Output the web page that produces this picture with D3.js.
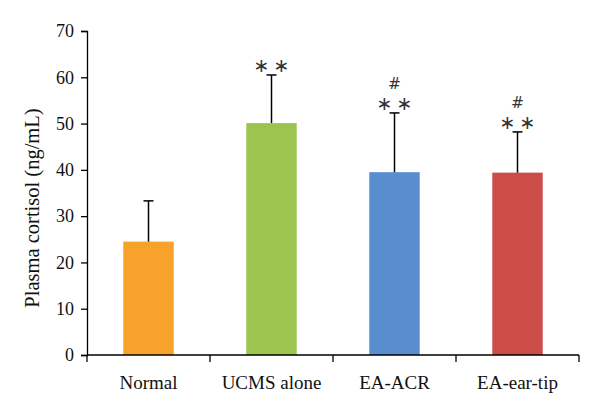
<!DOCTYPE html>
<html><head><meta charset="utf-8">
<script src="https://cdn.jsdelivr.net/npm/d3@7"></script>
<style>body{margin:0;background:#fff}svg{display:block}</style>
</head><body>
<svg id="c" width="600" height="415"></svg>
<script>
const categories = ["Normal", "UCMS alone", "EA-ACR", "EA-ear-tip"];
const means = [24.5, 50.1, 39.5, 39.4];
const errors = [8.8, 10.4, 12.8, 8.8];
const stars = ["", "**", "**", "**"];
const hashes = ["", "", "#", "#"];
const colors = ["#F7A22B", "#9DC44F", "#588ED0", "#CC4D48"];
const yTicks = [0, 10, 20, 30, 40, 50, 60, 70];

const svg = d3.select("#c");
const m = {left: 87, right: 21, top: 31, bottom: 60};
const W = 600, H = 415;
const x = d3.scaleBand().domain(categories).range([m.left, W - m.right]).paddingInner(0.59).paddingOuter(0.295);
const y = d3.scaleLinear().domain([0, 70]).range([H - m.bottom, m.top]);

const serif = "'Liberation Serif', 'DejaVu Serif', serif";
const sans = "'DejaVu Sans', sans-serif";

// bars
svg.selectAll("rect.bar").data(categories).enter().append("rect")
  .attr("x", d => x(d)).attr("width", x.bandwidth())
  .attr("y", (d, i) => y(means[i])).attr("height", (d, i) => y(0) - y(means[i]))
  .attr("fill", (d, i) => colors[i]);

// error bars (upper only)
const eb = svg.append("g").attr("stroke", "#000").attr("stroke-width", 1.5);
categories.forEach((d, i) => {
  const cx = x(d) + x.bandwidth() / 2;
  eb.append("line").attr("x1", cx).attr("x2", cx).attr("y1", y(means[i])).attr("y2", y(means[i] + errors[i]));
  eb.append("line").attr("x1", cx - 5).attr("x2", cx + 5).attr("y1", y(means[i] + errors[i])).attr("y2", y(means[i] + errors[i]));
});

// annotations
categories.forEach((d, i) => {
  const cx = x(d) + x.bandwidth() / 2;
  const top = y(means[i] + errors[i]);
  if (stars[i]) {
    svg.append("text").attr("x", cx + 2).attr("y", top - 10).attr("text-anchor", "middle")
      .attr("dominant-baseline", "central")
      .attr("font-family", sans).attr("font-size", 19).attr("letter-spacing", 4).attr("fill", "#333")
      .text(stars[i].split("").map(() => "\u2217").join(""));
  }
  if (hashes[i]) {
    svg.append("text").attr("x", cx).attr("y", top - 29).attr("text-anchor", "middle")
      .attr("dominant-baseline", "central")
      .attr("font-family", sans).attr("font-size", 15.5).attr("fill", "#333")
      .text(hashes[i]);
  }
});

// y axis
const ya = svg.append("g").attr("transform", `translate(${m.left},0)`)
  .call(d3.axisLeft(y).tickValues(yTicks).tickSize(6).tickPadding(7).tickFormat(d3.format("d")));
ya.select(".domain").attr("stroke", "#000").attr("stroke-width", 1.3);
ya.selectAll(".tick line").attr("stroke", "#000").attr("stroke-width", 1.3);
ya.selectAll("text").attr("font-family", serif).attr("font-size", 18).attr("fill", "#111");

// x axis
const xa = svg.append("g").attr("transform", `translate(0,${y(0)})`);
xa.append("line").attr("x1", m.left).attr("x2", W - m.right).attr("y1", 0).attr("y2", 0)
  .attr("stroke", "#000").attr("stroke-width", 1.3);
const bounds = categories.map(d => x(d) - x.step() * x.paddingInner() / 2);
bounds.push(W - m.right);
xa.selectAll("line.t").data(bounds).enter().append("line")
  .attr("x1", d => d).attr("x2", d => d).attr("y1", 0).attr("y2", 7)
  .attr("stroke", "#000").attr("stroke-width", 1.3);
xa.selectAll("text").data(categories).enter().append("text")
  .attr("x", d => x(d) + x.bandwidth() / 2).attr("y", 34).attr("text-anchor", "middle")
  .attr("font-family", serif).attr("font-size", 19).attr("fill", "#111").text(d => d);

// y label
svg.append("text").attr("transform", `translate(32,208) rotate(-90)`)
  .attr("text-anchor", "middle").attr("dominant-baseline", "central")
  .attr("font-family", serif).attr("font-size", 20.5).attr("fill", "#111")
  .text("Plasma cortisol (ng/mL)");
</script>
</body></html>
